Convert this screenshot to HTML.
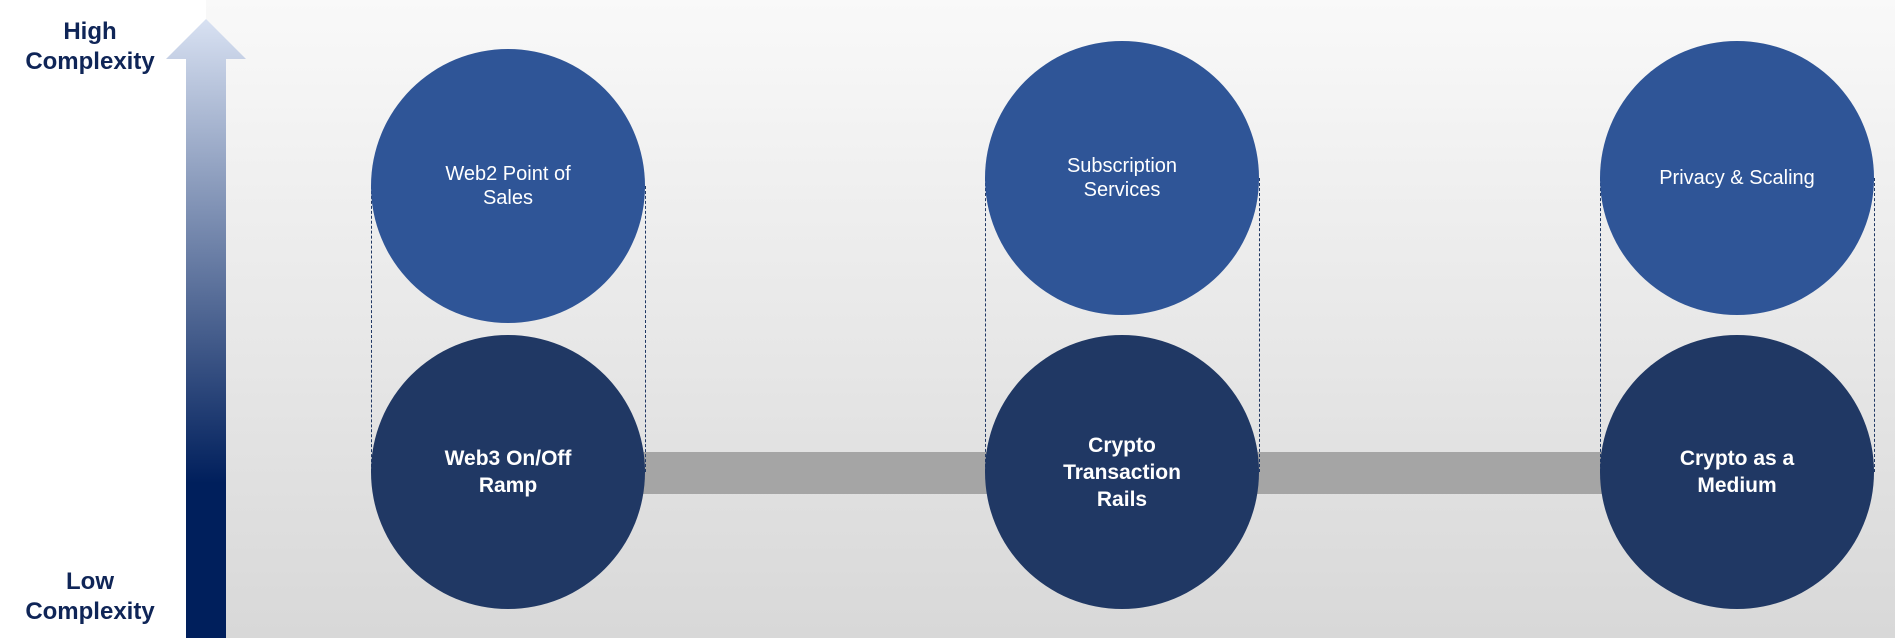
<!DOCTYPE html>
<html><head><style>
body{margin:0;width:1895px;height:638px;overflow:hidden;background:#fff;font-family:"Liberation Sans",sans-serif;position:relative}
.bg{position:absolute;left:206px;top:0;width:1689px;height:638px;background:linear-gradient(#f9f9f9,#d8d8d8)}
.lab{position:absolute;width:180px;left:0;text-align:center;color:#0f2557;font-weight:bold;font-size:24px;line-height:30px}
.c{position:absolute;width:274px;height:274px;border-radius:50%;display:flex;align-items:center;justify-content:center;text-align:center;color:#fff}
.t{background:#2f5597;font-size:20px;line-height:24px}
.b{background:#203864;font-weight:bold;font-size:21px;line-height:27px}
.bar{position:absolute;top:452px;height:42px;background:#a5a5a5}
.d{position:absolute;width:0;border-left:1px dashed #203864}
</style></head><body>
<div class="bg"></div>
<svg style="position:absolute;left:0;top:0" width="260" height="638">
<defs><linearGradient id="g" x1="0" y1="0" x2="0" y2="1"><stop offset="0" stop-color="#d8e1f2"/><stop offset="0.75" stop-color="#001f5c"/><stop offset="1" stop-color="#001f5c"/></linearGradient></defs>
<polygon points="206,19 246,59 226,59 226,638 186,638 186,59 166,59" fill="url(#g)"/>
</svg>
<div class="lab" style="top:17px">High<br>Complexity</div>
<div class="lab" style="top:567px">Low<br>Complexity</div>
<div class="bar" style="left:640px;width:350px"></div>
<div class="bar" style="left:1255px;width:350px"></div>
<div class="d" style="left:371px;top:186px;height:286px"></div>
<div class="d" style="left:645px;top:186px;height:286px"></div>
<div class="d" style="left:985px;top:178px;height:294px"></div>
<div class="d" style="left:1259px;top:178px;height:294px"></div>
<div class="d" style="left:1600px;top:178px;height:294px"></div>
<div class="d" style="left:1874px;top:178px;height:294px"></div>
<div class="c t" style="left:371px;top:49px">Web2 Point of<br>Sales</div>
<div class="c t" style="left:985px;top:41px">Subscription<br>Services</div>
<div class="c t" style="left:1600px;top:41px">Privacy &amp; Scaling</div>
<div class="c b" style="left:371px;top:335px">Web3 On/Off<br>Ramp</div>
<div class="c b" style="left:985px;top:335px">Crypto<br>Transaction<br>Rails</div>
<div class="c b" style="left:1600px;top:335px">Crypto as a<br>Medium</div>
</body></html>
